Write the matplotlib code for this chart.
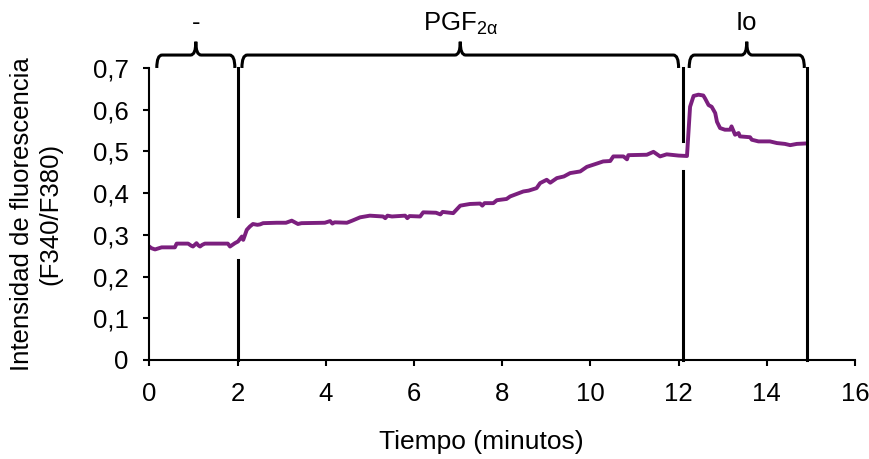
import matplotlib
matplotlib.use('Agg')
import matplotlib.pyplot as plt
from matplotlib.path import Path
from matplotlib.patches import PathPatch
from matplotlib.ticker import FuncFormatter

plt.rcParams['font.family'] = ['Liberation Sans', 'DejaVu Sans']
plt.rcParams['mathtext.fontset'] = 'custom'
plt.rcParams['mathtext.rm'] = 'Liberation Sans'

# trace (minutes, F340/F380)
tiempo = [0.00, 0.05, 0.13, 0.28, 0.58, 0.62, 0.88, 0.95, 0.99, 1.03, 1.07, 1.11,
          1.15, 1.20, 1.26, 1.78, 1.83, 1.94, 2.01, 2.10, 2.13, 2.21, 2.28, 2.35,
          2.45, 2.51, 2.58, 2.89, 3.10, 3.23, 3.30, 3.37, 3.45, 3.98, 4.10, 4.15,
          4.20, 4.48, 4.60, 4.78, 5.00, 5.30, 5.35, 5.40, 5.50, 5.80, 5.85, 5.90,
          6.14, 6.21, 6.50, 6.60, 6.65, 6.89, 7.05, 7.27, 7.50, 7.55, 7.60, 7.80,
          7.88, 8.10, 8.18, 8.33, 8.48, 8.60, 8.78, 8.86, 9.01, 9.09, 9.24, 9.40,
          9.54, 9.77, 9.92, 10.15, 10.29, 10.45, 10.52, 10.75, 10.83, 10.86, 11.28,
          11.43, 11.58, 11.73, 12.00, 12.19, 12.26, 12.34, 12.45, 12.56, 12.60,
          12.68, 12.75, 12.83, 12.87, 12.94, 13.05, 13.17, 13.20, 13.28, 13.36,
          13.39, 13.62, 13.66, 13.81, 14.07, 14.23, 14.41, 14.53, 14.68, 14.87,
          14.91]
ratio = [0.272, 0.268, 0.265, 0.270, 0.270, 0.279, 0.279, 0.274, 0.272, 0.276, 0.280, 0.275,
         0.272, 0.276, 0.279, 0.279, 0.272, 0.280, 0.284, 0.296, 0.288, 0.312, 0.320, 0.326,
         0.324, 0.325, 0.328, 0.329, 0.329, 0.334, 0.330, 0.326, 0.328, 0.329, 0.333, 0.327,
         0.330, 0.329, 0.334, 0.342, 0.346, 0.344, 0.340, 0.346, 0.344, 0.346, 0.340,
         0.345, 0.344, 0.354, 0.353, 0.349, 0.355, 0.352, 0.370, 0.374, 0.375, 0.370,
         0.376, 0.376, 0.383, 0.386, 0.392, 0.398, 0.404, 0.406, 0.412, 0.424, 0.432,
         0.425, 0.436, 0.440, 0.448, 0.452, 0.463, 0.471, 0.476, 0.477, 0.488, 0.488,
         0.481, 0.491, 0.492, 0.499, 0.488, 0.493, 0.490, 0.489, 0.607, 0.633, 0.636,
         0.634, 0.627, 0.611, 0.607, 0.592, 0.571, 0.556, 0.552, 0.552, 0.560, 0.540,
         0.544, 0.536, 0.534, 0.528, 0.524, 0.524, 0.520, 0.518, 0.515, 0.518, 0.519,
         0.519]

# treatment boundaries (x) and the gap left around the trace (y from, y to)
limites = [2.0, 12.11, 14.91]
huecos = [(0.24, 0.344), (0.452, 0.524), None]

# braces over each period
tramos = [(0.17, 1.94), (2.10, 12.0), (12.24, 14.85)]
etiquetas = ['-', 'PGF$_{\\mathregular{2α}}$', 'Io']

fig = plt.figure(figsize=(8.7, 4.59), dpi=100)
ax = fig.add_axes([0.1716, 0.2157, 0.8112, 0.6362])

ax.plot(tiempo, ratio, color='#7B1F7E', lw=2.8, solid_joinstyle='round')

for x, h in zip(limites, huecos):
    if h is None:
        ax.plot([x, x], [0, 0.70], color='black', lw=2.2, clip_on=False)
    else:
        ax.plot([x, x], [0, h[0]], color='black', lw=2.2, clip_on=False)
        ax.plot([x, x], [h[1], 0.70], color='black', lw=2.2, clip_on=False)

y_low, y_top, y_tip, r = 0.70, 0.731, 0.763, 0.12
for (x0, x1), lab in zip(tramos, etiquetas):
    xm = (x0 + x1) / 2
    verts = [(x0, y_low), (x0, y_top), (x0 + r, y_top),
             (xm - r, y_top), (xm, y_top), (xm, y_tip),
             (xm, y_top), (xm + r, y_top),
             (x1 - r, y_top), (x1, y_top), (x1, y_low)]
    codes = [Path.MOVETO, Path.CURVE3, Path.CURVE3,
             Path.LINETO, Path.CURVE3, Path.CURVE3,
             Path.CURVE3, Path.CURVE3,
             Path.LINETO, Path.CURVE3, Path.CURVE3]
    ax.add_patch(PathPatch(Path(verts, codes), fill=False, lw=2.2,
                           edgecolor='black', clip_on=False))
    ax.text(xm, 0.79, lab, ha='center', va='baseline', fontsize=18.5)

ax.set_xlim(0, 16)
ax.set_ylim(0, 0.7)
ax.set_xticks(range(0, 17, 2))
ax.set_yticks([i / 10 for i in range(8)])
ax.yaxis.set_major_formatter(FuncFormatter(lambda v, p: ('%.1f' % v).replace('.', ',') if v else '0'))

for s in ['top', 'right']:
    ax.spines[s].set_visible(False)
for s in ['left', 'bottom']:
    ax.spines[s].set_linewidth(1.5)
ax.tick_params(direction='out', length=4, width=1.5, labelsize=18.5)
ax.tick_params(axis='x', pad=12)
ax.tick_params(axis='y', pad=11)

ax.set_xlabel('Tiempo (minutos)', fontsize=19, labelpad=17)
ax.xaxis.label.set_x(0.47)
ax.set_ylabel('Intensidad de fluorescencia\n(F340/F380)', fontsize=18.5, labelpad=22)

fig.savefig('out.png', dpi=100)
